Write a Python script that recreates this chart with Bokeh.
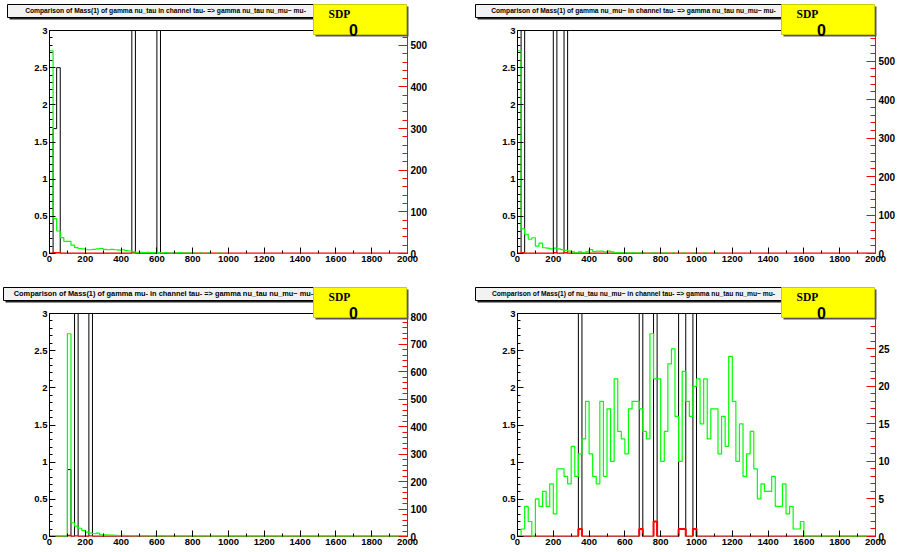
import numpy as np
from bokeh.plotting import figure
from bokeh.models import (Range1d, LinearAxis, SingleIntervalTicker, FixedTicker,
                          CustomJSTickFormatter, GridBox)
from bokeh.core.properties import value
from bokeh.embed import file_html
from bokeh.resources import INLINE

# ---------------- data ----------------
x_min, x_max, bin_width = 0, 2000, 20
x_tick_step = 200
left_tick_step = 0.5
left_max = 3

titles = [
    "Comparison of Mass(1) of gamma nu_tau in channel tau- => gamma nu_tau nu_mu~ mu-",
    "Comparison of Mass(1) of gamma nu_mu~ in channel tau- => gamma nu_tau nu_mu~ mu-",
    "Comparison of Mass(1) of gamma mu- in channel tau- => gamma nu_tau nu_mu~ mu-",
    "Comparison of Mass(1) of nu_tau nu_mu~ in channel tau- => gamma nu_tau nu_mu~ mu-",
]
box_label = "SDP"
box_value = "0"

# green histograms (counts, right axis), one value per 20-wide bin
green1 = [487, 84, 54, 38, 29, 29, 20, 14, 12, 11,
          9, 9, 10, 11, 12, 10, 9, 10, 9, 8,
          9, 7, 6, 4, 3, 3, 2, 3, 2, 2,
          2, 1, 2, 1, 1, 1, 2, 1, 1, 1,
          1, 0, 1, 0, 1, 0, 0, 1, 0, 0] + [0] * 50
green2 = [527, 64, 50, 37, 41, 19, 27, 15, 14, 12,
          14, 12, 10, 8, 6, 4, 2, 4, 2, 4,
          10, 5, 6, 6, 4, 6, 4, 2, 2, 2,
          2, 1, 2, 1, 1, 1, 0, 1, 1, 0,
          1, 1, 0, 1, 0, 0, 1, 0, 0, 1,
          0, 0, 1, 0, 0, 1] + [0] * 44
green3 = [0, 0, 0, 0, 0, 738, 50, 38, 30, 22,
          16, 12, 10, 12, 6, 6, 5, 5, 4, 3,
          4, 3, 3, 2, 3, 2, 2, 2, 1, 2,
          1, 2, 1, 1, 1, 1, 0, 1, 1, 0,
          1, 0, 0, 1, 0, 0, 0, 0, 0, 0] + [0] * 50
green4 = [0, 1, 4, 2, 0, 5, 4, 6, 4, 7,
          3, 9, 9, 8, 7, 12, 8, 11, 13, 18,
          11, 8, 7, 18, 8, 17, 10, 21, 14, 13,
          11, 17, 18, 18, 17, 14, 13, 27, 21, 21,
          10, 14, 23, 25, 16, 10, 22, 18, 16, 20,
          21, 15, 21, 13, 17, 17, 11, 16, 12, 24,
          18, 10, 15, 8, 11, 14, 9, 5, 7, 6,
          6, 8, 4, 4, 7, 3, 4, 1, 1, 2] + [0] * 20

# red histograms (counts, right axis): {bin low edge: count}
red1 = {20: 1, 40: 1, 460: 1, 600: 1}
red2 = {20: 1, 200: 1, 260: 1}
red3 = {100: 3, 140: 1, 220: 1}
red4 = {340: 1, 680: 1, 760: 2, 900: 1, 920: 1, 980: 1}

# black histograms (ratio, left axis): {bin low edge: value}; >3 is off scale
black1 = {20: 1.68, 40: 2.5, 460: 5, 600: 5}
black2 = {20: 5, 200: 5, 260: 5}
black3 = {100: 0.9, 140: 5, 220: 5}
black4 = {340: 5, 680: 5, 760: 5, 900: 5, 920: 5, 980: 5}

right_tick_steps = [100, 100, 100, 5]

# ---------------- layout geometry ----------------
TOTAL_W, TOTAL_H = 899, 552
COL_W = [450, 449]
ROW_H = [276, 276]
FRAME_W, FRAME_H = 358, 223
COL_ML = [49, 67]
ROW_MT = [30, 37]
FONT = "Liberation Sans"

edges = np.arange(x_min, x_max + bin_width, bin_width)
nbins = len(edges) - 1


def sparse_to_arr(d):
    a = np.zeros(nbins)
    for e, v in d.items():
        a[int((e - x_min) // bin_width)] = v
    return a


def step_y(vals):
    vals = np.asarray(vals, dtype=float)
    return np.append(vals, vals[-1])


def style_axis(ax, color="black", size="9.5px"):
    ax.axis_line_color = color
    ax.major_tick_line_color = color
    ax.minor_tick_line_color = color
    ax.major_tick_out = 0
    ax.minor_tick_out = 0
    ax.major_label_text_font = FONT
    ax.major_label_text_font_style = "bold"
    ax.major_label_text_font_size = size
    ax.major_label_text_color = "black"
    ax.major_label_standoff = 2


def make_panel(green, red, black, r_step, col, rw):
    ml = COL_ML[col]
    mr = COL_W[col] - ml - FRAME_W
    mt = ROW_MT[rw]
    mb = ROW_H[rw] - mt - FRAME_H
    p = figure(frame_width=FRAME_W, frame_height=FRAME_H, title=None,
               x_range=Range1d(x_min, x_max), y_range=Range1d(0, left_max),
               output_backend="svg", toolbar_location=None,
               min_border_left=ml, min_border_right=mr,
               min_border_top=mt, min_border_bottom=mb,
               background_fill_color="white", border_fill_color="white")
    p.outline_line_color = None
    p.xgrid.visible = False
    p.ygrid.visible = False

    rmax = 1.1 * max(green)
    p.extra_y_ranges = {"r": Range1d(0, rmax)}

    xa = p.xaxis[0]
    xa.ticker = SingleIntervalTicker(interval=x_tick_step, num_minor_ticks=2)
    style_axis(xa)
    xa.axis_line_color = None
    xa.major_tick_in = 6
    xa.minor_tick_in = 3

    ya = p.yaxis[0]
    ya.ticker = SingleIntervalTicker(interval=left_tick_step, num_minor_ticks=5)
    ya.formatter = CustomJSTickFormatter(code="return String(Math.round(tick*10)/10);")
    style_axis(ya)
    ya.major_tick_in = 6
    ya.minor_tick_in = 3

    ra = LinearAxis(y_range_name="r",
                    ticker=SingleIntervalTicker(interval=r_step, num_minor_ticks=5))
    style_axis(ra, color="red", size="10px")
    ra.major_label_text_color = "black"
    ra.major_tick_in = 9
    ra.minor_tick_in = 5
    ra.major_label_standoff = 3
    p.add_layout(ra, "right")

    ta = LinearAxis(ticker=FixedTicker(ticks=[]), major_label_text_font_size="0px",
                    major_tick_line_color=None, minor_tick_line_color=None,
                    axis_line_color="black")
    p.add_layout(ta, "above")

    p.step(edges, step_y(sparse_to_arr(black)), mode="after", line_color="black", line_width=1)
    p.step(edges, step_y(sparse_to_arr(red)), mode="after", line_color="#ff0000",
           line_width=2, y_range_name="r")
    p.step(edges, step_y(green), mode="after", line_color="#00ff00",
           line_width=1.2, y_range_name="r")
    return p


p1 = make_panel(green1, red1, black1, right_tick_steps[0], 0, 0)
p2 = make_panel(green2, red2, black2, right_tick_steps[1], 1, 0)
p3 = make_panel(green3, red3, black3, right_tick_steps[2], 0, 1)
p4 = make_panel(green4, red4, black4, right_tick_steps[3], 1, 1)

# ---------------- overlay with title panes and SDP boxes ----------------
ov = figure(width=TOTAL_W, height=TOTAL_H, title=None, x_range=Range1d(0, TOTAL_W),
            y_range=Range1d(TOTAL_H, 0), x_axis_type=None, y_axis_type=None,
            output_backend="svg", toolbar_location=None,
            min_border_left=0, min_border_right=0, min_border_top=0, min_border_bottom=0,
            background_fill_color=None, border_fill_color=None)
ov.outline_line_color = None
ov.grid.visible = False
try:
    ov.frame_align = False
except Exception:
    pass

panels = [(0, 0), (1, 0), (0, 1), (1, 1)]
title_extra_left = [0, 0, 4, 0]
title_sizes = ["6.7px", "6.7px", "7.4px", "6.7px"]
tb = dict(l=[], r=[], t=[], b=[])
sb = dict(l=[], r=[], t=[], b=[])
for i, (c, rw) in enumerate(panels):
    fx = sum(COL_W[:c]) + COL_ML[c]
    fy = sum(ROW_H[:rw]) + ROW_MT[rw]
    tb["l"].append(fx - 42 - title_extra_left[i]); tb["r"].append(fx + 274)
    tb["t"].append(fy - 26); tb["b"].append(fy - 13)
    sb["l"].append(fx + FRAME_W - 94); sb["r"].append(fx + FRAME_W - 1)
    sb["t"].append(fy - 26); sb["b"].append(fy + 4)

sh = 2
ov.quad(left=[v + sh for v in tb["l"]], right=[v + sh for v in tb["r"]],
        top=[v + sh for v in tb["t"]], bottom=[v + sh for v in tb["b"]],
        fill_color="#222222", line_color=None)
ov.quad(left=tb["l"], right=tb["r"], top=tb["t"], bottom=tb["b"],
        fill_color="#f2f2f2", line_color="black", line_width=1)
ov.quad(left=[v + sh for v in sb["l"]], right=[v + sh for v in sb["r"]],
        top=[v + sh for v in sb["t"]], bottom=[v + sh for v in sb["b"]],
        fill_color="#555555", line_color=None)
ov.quad(left=sb["l"], right=sb["r"], top=sb["t"], bottom=sb["b"],
        fill_color="#ffff00", line_color="#cccc00", line_width=1)

for i in range(4):
    ov.text(x=[(tb["l"][i] + tb["r"][i]) / 2], y=[(tb["t"][i] + tb["b"][i]) / 2 - 0.5],
            text=[titles[i]], text_align="center", text_baseline="middle",
            text_font=value(FONT), text_font_style="bold",
            text_font_size=title_sizes[i], text_color="black")

ov.text(x=[v + 15 for v in sb["l"]], y=[v + 9 for v in sb["t"]], text=[box_label] * 4,
        text_align="left", text_baseline="alphabetic",
        text_font=value("Liberation Serif"), text_font_style="bold",
        text_font_size="11.5px", text_color="black")
ov.text(x=[v + 40 for v in sb["l"]], y=[v + 25 for v in sb["t"]], text=[box_value] * 4,
        text_align="center", text_baseline="alphabetic",
        text_font=value(FONT), text_font_style="bold",
        text_font_size="16px", text_color="black")

grid = GridBox(children=[(p1, 0, 0), (p2, 0, 1), (p3, 1, 0), (p4, 1, 1),
                         (ov, 0, 0, 2, 2)])
open("out.html", "w").write(file_html(grid, INLINE, title="SDP comparison"))
